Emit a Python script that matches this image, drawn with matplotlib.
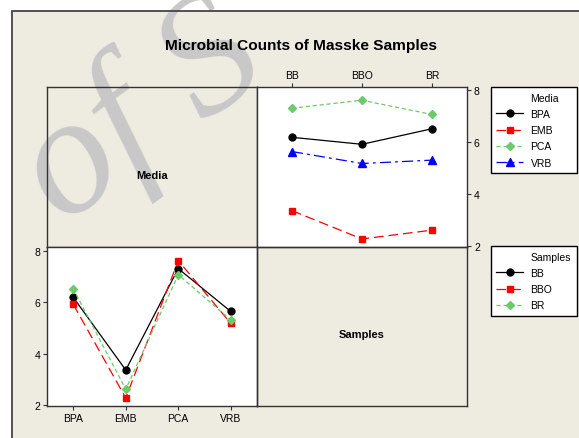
import matplotlib.pyplot as plt
from matplotlib.lines import Line2D
from matplotlib.patches import Rectangle

plt.rcParams['font.family'] = ['Liberation Sans', 'DejaVu Sans']
plt.rcParams['lines.scale_dashes'] = False

# interaction means, one list per medium, over the samples
samples = ['BB', 'BBO', 'BR']
media = ['BPA', 'EMB', 'PCA', 'VRB']
bpa = [6.19, 5.92, 6.52]
emb = [3.36, 2.27, 2.61]
pca = [7.31, 7.62, 7.07]
vrb = [5.64, 5.18, 5.31]
y_ticks = [2, 4, 6, 8]

W, H = 579, 439
bg = '#EEEBE1'
edge = '#333333'
green = '#6BCB6B'

media_style = {
    'BPA': dict(color='black', marker='o', ms=5, ls='-'),
    'EMB': dict(color='red', marker='s', ms=4.5, dashes=(7, 3.5)),
    'PCA': dict(color=green, marker='D', ms=4.5, dashes=(3, 2)),
    'VRB': dict(color='blue', marker='^', ms=5.5, dashes=(8, 3, 2, 3)),
}
sample_style = {
    'BB': dict(color='black', marker='o', ms=5, ls='-'),
    'BBO': dict(color='red', marker='s', ms=4.5, dashes=(7, 3.5)),
    'BR': dict(color=green, marker='D', ms=4.5, dashes=(3, 2)),
}

fig = plt.figure(figsize=(W / 100, H / 100), dpi=100, facecolor='white')

# beige graph region (frame drawn separately so the watermark sits under it)
fig.patches.append(Rectangle((12 / W, -0.1), 1.2, 1 - 12 / H + 0.1,
                             transform=fig.transFigure, facecolor=bg,
                             edgecolor='none', zorder=-10))
fig.patches.append(Rectangle((12 / W, -0.1), 1.2, 1 - 12 / H + 0.1,
                             transform=fig.transFigure, facecolor='none',
                             edgecolor='#444444', lw=1.3, zorder=-1))


def px_axes(x0, y0, x1, y1):
    return fig.add_axes([x0 / W, 1 - y1 / H, (x1 - x0) / W, (y1 - y0) / H])


ax_tl = px_axes(47, 88, 257, 248)
ax_tr = px_axes(257, 88, 467, 248)
ax_bl = px_axes(47, 248, 257, 407)
ax_br = px_axes(257, 248, 467, 407)

for ax in (ax_tl, ax_tr, ax_bl, ax_br):
    for s in ax.spines.values():
        s.set_color(edge)
        s.set_linewidth(1.0)

for ax, lab in ((ax_tl, 'Media'), (ax_br, 'Samples')):
    ax.set_facecolor('none')
    ax.set_xticks([])
    ax.set_yticks([])
    ax.text(0.5, 0.45, lab, transform=ax.transAxes, ha='center', va='center',
            fontsize=8, fontweight='bold')

leg_kw = dict(loc='upper left', borderaxespad=0, mode='expand',
              fontsize=7.5, frameon=True, fancybox=False, edgecolor='black',
              framealpha=1, numpoints=1, handlelength=2.6, handletextpad=0.7,
              labelspacing=0.6, borderpad=0.55)

# top right: media lines over samples
vals = {'BPA': bpa, 'EMB': emb, 'PCA': pca, 'VRB': vrb}
handles = [Line2D([], [], ls='none', label='Media')]
for m in media:
    ln, = ax_tr.plot(range(len(samples)), vals[m], lw=0.9, label=m, **media_style[m])
    handles.append(ln)
ax_tr.set_xlim(-0.5, len(samples) - 0.5)
ax_tr.set_ylim(1.96, 8.13)
ax_tr.set_xticks(range(len(samples)))
ax_tr.set_xticklabels(samples)
ax_tr.set_yticks(y_ticks)
ax_tr.xaxis.tick_top()
ax_tr.yaxis.tick_right()
ax_tr.tick_params(labelsize=7.5, length=3, width=0.8, pad=2, color=edge)

fig.legend(handles=handles,
           bbox_to_anchor=(490.5 / W, 1 - 88 / H, 86.5 / W, 0), **leg_kw)

# bottom left: sample lines over media
handles = [Line2D([], [], ls='none', label='Samples')]
for i, s in enumerate(samples):
    row = [bpa[i], emb[i], pca[i], vrb[i]]
    ln, = ax_bl.plot(range(len(media)), row, lw=0.9, label=s, **sample_style[s])
    handles.append(ln)
ax_bl.set_xlim(-0.5, len(media) - 0.5)
ax_bl.set_ylim(1.96, 8.15)
ax_bl.set_xticks(range(len(media)))
ax_bl.set_xticklabels(media)
ax_bl.set_yticks(y_ticks)
ax_bl.tick_params(labelsize=7.5, length=3, width=0.8, pad=2, color=edge)

fig.legend(handles=handles,
           bbox_to_anchor=(490.5 / W, 1 - 247 / H, 86.5 / W, 0), **leg_kw)

fig.text(301 / W, 1 - 46 / H, 'Microbial Counts of Masske Samples',
         ha='center', va='center', fontsize=11.1, fontweight='bold')

# watermark, under the frame lines and the title
fig.text(62 / W, 1 - 226 / H, 'of S', fontsize=122, family='Liberation Serif',
         style='italic', color='#C8C8C8', rotation=36,
         rotation_mode='anchor', ha='left', va='baseline', zorder=-5)

fig.savefig('out.png', dpi=100, facecolor=fig.get_facecolor())
